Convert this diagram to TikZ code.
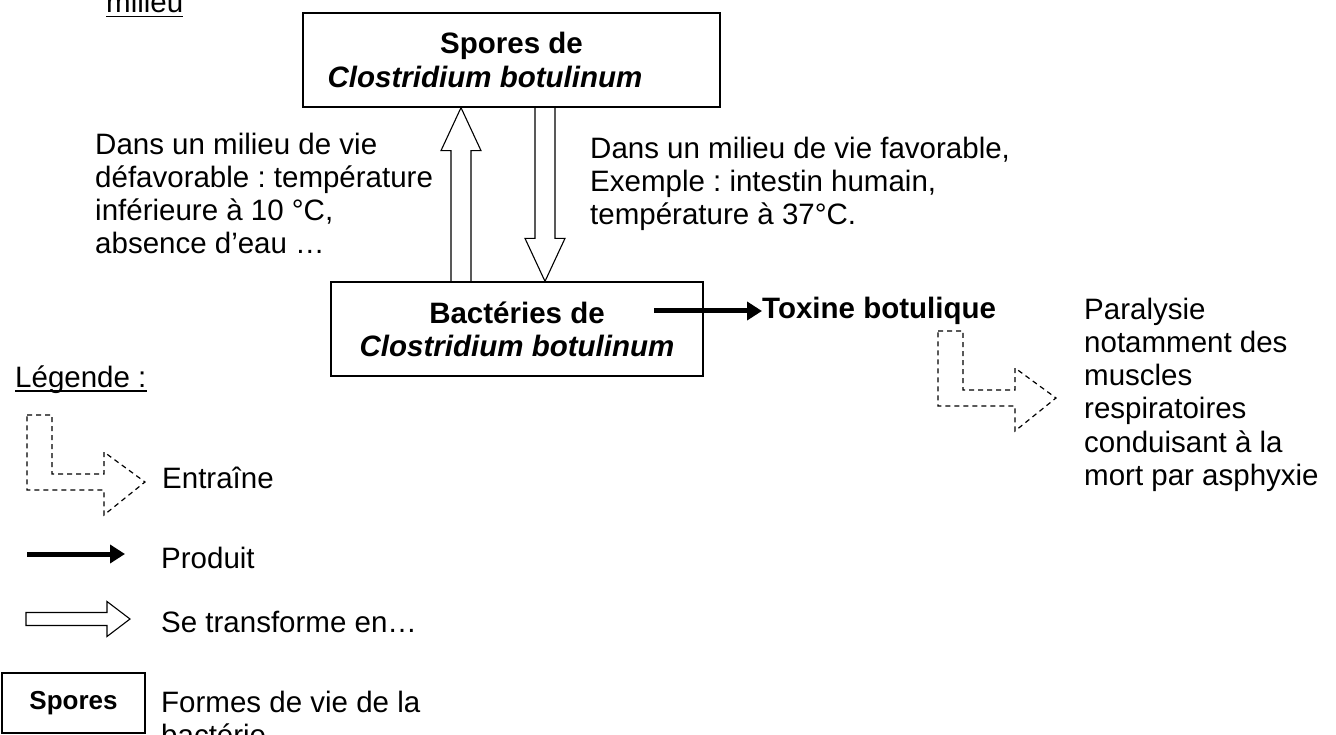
\documentclass[tikz,border=0pt]{standalone}
\usepackage{fontspec}
\setmainfont{Liberation Sans}
\usetikzlibrary{positioning,calc,arrows.meta}
\frenchspacing

\begin{document}
\begin{tikzpicture}[
x=1pt, y=-1pt,
every node/.style={
  font=\fontsize{29.5}{33.3}\selectfont,
  inner sep=0pt},
mybox/.style={
  draw,
  line width=1.3pt,
  align=center,
  font=\fontsize{29.5}{33.3}\selectfont\bfseries},
mytext/.style={
  anchor=north west,
  align=left},
myline/.style={
  anchor=base west},
produit/.style={
  line width=5pt,
  -{Triangle[length=15pt,width=18pt]}},
creux/.style={
  line width=1.1pt,
  line join=miter},
pointille/.style={
  line width=1.2pt,
  dash pattern=on 5pt off 4pt}
]
\useasboundingbox (0,0) rectangle (1336,735);
% les deux formes de vie
\node[mybox, minimum width=417pt, minimum height=94pt] (S) at (511.5,60)
  {Spores de\\ \textit{Clostridium botulinum}\rule{53pt}{0pt}};
\node[mybox, minimum width=372pt, minimum height=94pt] (B) at (517,329)
  {Bactéries de\\ \textit{Clostridium botulinum}};
\node[anchor=west, font=\fontsize{29.5}{33.3}\selectfont\bfseries] (T) at (762,311)
  {Toxine botulique};
\coordinate (P) at (654,311);
\draw[produit] (P) -- (T.west);
% fleches creuses entre les boites
\coordinate (upx) at (461,0);
\coordinate (dnx) at (545,0);
\coordinate (upfoot) at (B.north -| upx);
\coordinate (uptip) at (S.south -| upx);
\coordinate (dntop) at (S.south -| dnx);
\coordinate (dntip) at (B.north -| dnx);
\draw[creux] ($(upfoot)+(-10,0)$) -- ($(uptip)+(-10,43)$) -- ($(uptip)+(-20,43)$) --
  (uptip) -- ($(uptip)+(20,43)$) -- ($(uptip)+(10,43)$) -- ($(upfoot)+(10,0)$);
\draw[creux] ($(dntop)+(-10,0)$) -- ($(dntip)+(-10,-43)$) -- ($(dntip)+(-20,-43)$) --
  (dntip) -- ($(dntip)+(20,-43)$) -- ($(dntip)+(10,-43)$) -- ($(dntop)+(10,0)$);
% textes
\node[myline] (M) at (106,13) {milieu};
\draw[line width=1.3pt] ($(M.base west)+(0,3.5)$) -- ($(M.base east)+(0,3.5)$);
\node[mytext] (Def) at (95,132.5)
  {Dans un milieu de vie\\défavorable : température\\inférieure à 10 °C,\\absence d’eau …};
\node[mytext] (Fav) at (590,136.5)
  {Dans un milieu de vie favorable,\\Exemple : intestin humain,\\température à 37°C.};
\node[mytext] (Par) at (1084,297.5)
  {Paralysie\\notamment des\\muscles\\respiratoires\\conduisant à la\\mort par asphyxie};
% legende
\node[myline] (L) at (15,387) {Légende :};
\draw[line width=1.3pt] ($(L.base west)+(0,4)$) -- ($(L.base east)+(0,4)$);
\coordinate (legL) at (27,415);
\coordinate (toxL) at (938,331);
\foreach \Coin in {legL,toxL}
  \draw[pointille] (\Coin) -- ++(25,0) -- ++(0,59) -- ++(52,0) -- ++(0,-22) --
    ++(41,30) -- ++(-41,33) -- ++(0,-25) -- ++(-77,0) -- cycle;
\node[myline] (E) at (162,488) {Entraîne};
\coordinate (prodA) at (27,554);
\coordinate (prodB) at (125,554);
\draw[produit] (prodA) -- (prodB);
\node[myline] (Pr) at (161,568) {Produit};
\coordinate (creuxA) at (26,619);
\coordinate (creuxB) at (130,619);
\draw[creux] ($(creuxA)+(0,-6.5)$) -- ++(81,0) -- ++(0,-11) -- (creuxB) --
  ++(-23,17.5) -- ++(0,-11) -- ++(-81,0) -- cycle;
\node[myline] (Tr) at (161,632) {Se transforme en…};
\node[draw, line width=1.3pt, minimum width=143pt, minimum height=60pt,
  font=\fontsize{26}{30}\selectfont\bfseries] (SL) at (73.5,703) {Spores};
\node[mytext] (F) at (161,691) {Formes de vie de la\\bactérie};
\end{tikzpicture}
\end{document}
